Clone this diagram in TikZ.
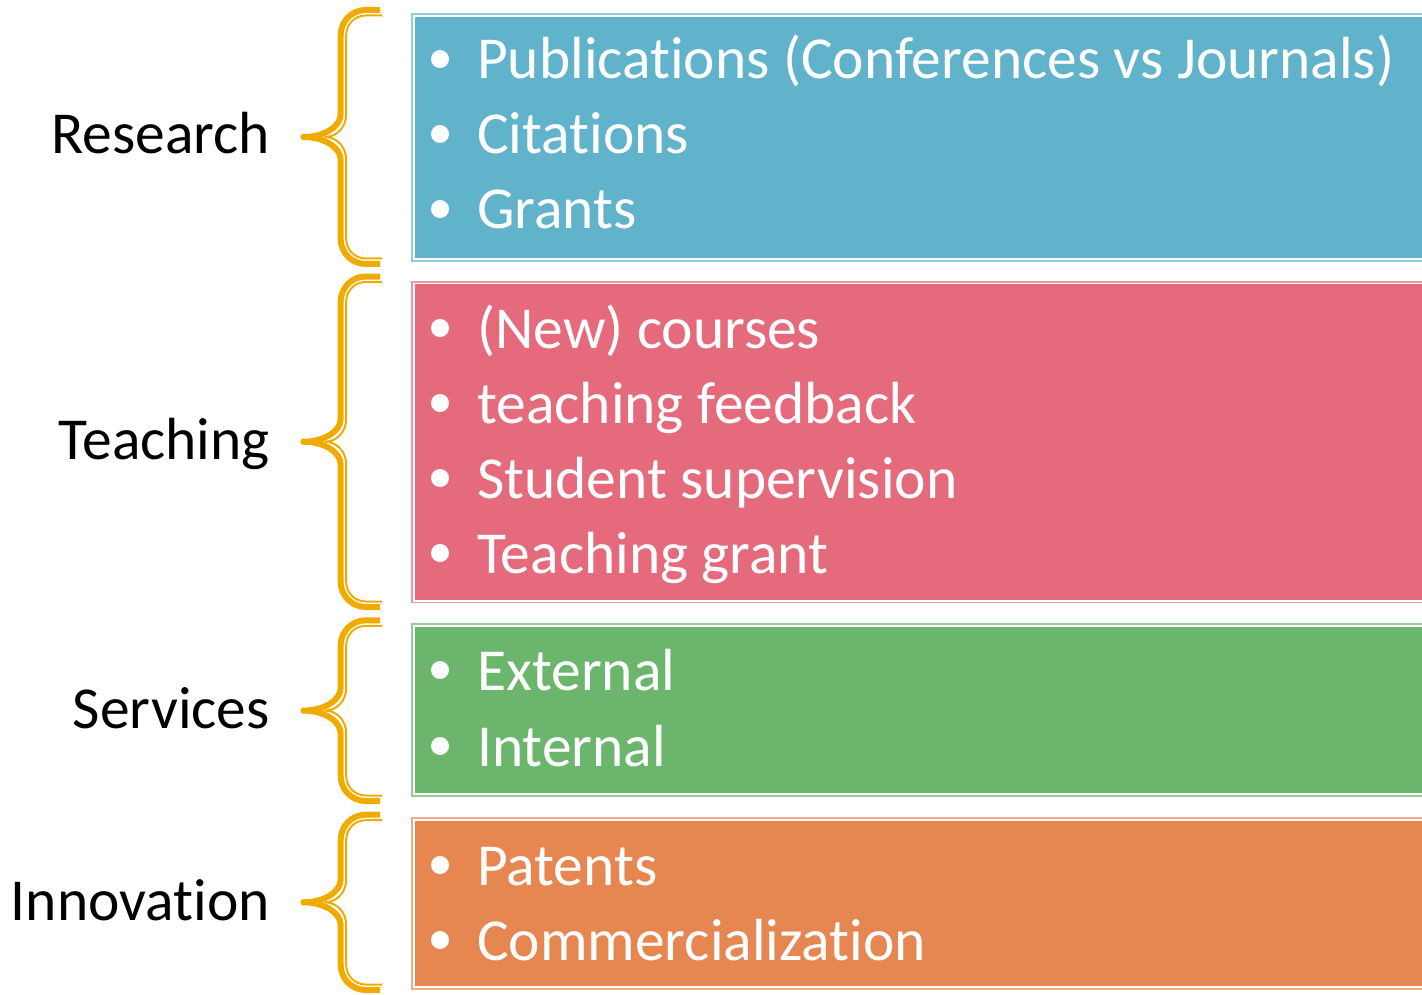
\documentclass[tikz,border=0pt]{standalone}
\usepackage{fontspec}
\setmainfont{Carlito}[Ligatures={NoCommon}]
\definecolor{rblue}{HTML}{61B3CB}
\definecolor{rred}{HTML}{E56B7C}
\definecolor{rgreen}{HTML}{6CB56C}
\definecolor{rorange}{HTML}{E68752}
\definecolor{bracecol}{HTML}{F0AB00}
\tikzset{
  bracethick/.style={draw=bracecol, line width=6pt, line cap=round, line join=round},
  bracethin/.style={draw=bracecol, line width=2pt, line join=round},
  catlabel/.style={anchor=base east, inner sep=0pt, font=\fontsize{59.5}{62}\selectfont, text=black},
  itemtext/.style={anchor=base west, inner sep=0pt, font=\fontsize{59.5}{62}\selectfont, text=white},
  bulletdot/.style={fill=white, draw=none},
}
\newcommand{\mybrace}[3]{%
  \draw[bracethin] (382,#1+5.5) -- (365.7,#1+5.5)
    .. controls (354.9,#1+5.5) and (346.2,#1+14.2) .. (346.2,#1+25)
    -- (346.2,#3-23) .. controls (346.2,#3-9) and (336,#3) .. (325,#3)
    .. controls (336,#3) and (346.2,#3+9) .. (346.2,#3+23)
    -- (346.2,#2-25) .. controls (346.2,#2-14.2) and (354.9,#2-5.5) .. (365.7,#2-5.5)
    -- (382,#2-5.5);
  \draw[bracethick, line cap=butt] (380,#1) -- (365.7,#1)
    .. controls (351.9,#1) and (340.7,#1+11.2) .. (340.7,#1+25)
    -- (340.7,#3-23) .. controls (340.7,#3-10.3) and (324,#3) .. (303.5,#3)
    .. controls (324,#3) and (340.7,#3+10.3) .. (340.7,#3+23)
    -- (340.7,#2-25) .. controls (340.7,#2-11.2) and (351.9,#2) .. (365.7,#2)
    -- (380,#2);
  \fill[bracecol] (303.5,#3) circle (3pt);
}
\newcommand{\mybox}[3]{%
  \fill[#1!70!white] (411,#2) rectangle (1440,#3);
  \fill[white] (412.8,#2+1.8) rectangle (1440,#3-1.8);
  \fill[#1] (414.6,#2+3.6) rectangle (1440,#3-3.6);
}
\begin{document}
\begin{tikzpicture}[x=1pt, y=-1pt]
\useasboundingbox (0,0) rectangle (1422,995);
\clip (0,0) rectangle (1422,995);
% braces
\mybrace{10}{264}{137}
\mybrace{276.5}{607}{441.7}
\mybrace{620.3}{801}{710.6}
\mybrace{814.7}{990}{902.3}
% boxes
\mybox{rblue}{13}{262}
\mybox{rred}{280.7}{603.3}
\mybox{rgreen}{623.3}{796.7}
\mybox{rorange}{817.3}{990}
% labels
\node[catlabel] (research) at (270,154) {Research};
\node[catlabel] (teaching) at (270,459) {Teaching};
\node[catlabel] (services) at (270,728) {Services};
\node[catlabel] (innovation) at (270,920) {Innovation};
% bullets
\foreach \y in {59,134,209,328,403,478,553,670,746,865,940}
  \fill[bulletdot] (440,\y) circle (9pt);
% items
\node[itemtext] (r1) at (477,79) {Publications (Conferences vs Journals)};
\node[itemtext] (r2) at (477,154) {Citations};
\node[itemtext] (r3) at (477,229) {Grants};
\node[itemtext] (t1) at (477,348) {(New) courses};
\node[itemtext] (t2) at (477,423) {teaching feedback};
\node[itemtext] (t3) at (477,498) {Student supervision};
\node[itemtext] (t4) at (477,573) {Teaching grant};
\node[itemtext] (s1) at (477,690) {External};
\node[itemtext] (s2) at (477,766) {Internal};
\node[itemtext] (i1) at (477,885) {Patents};
\node[itemtext] (i2) at (477,960) {Commercialization};
\end{tikzpicture}
\end{document}
